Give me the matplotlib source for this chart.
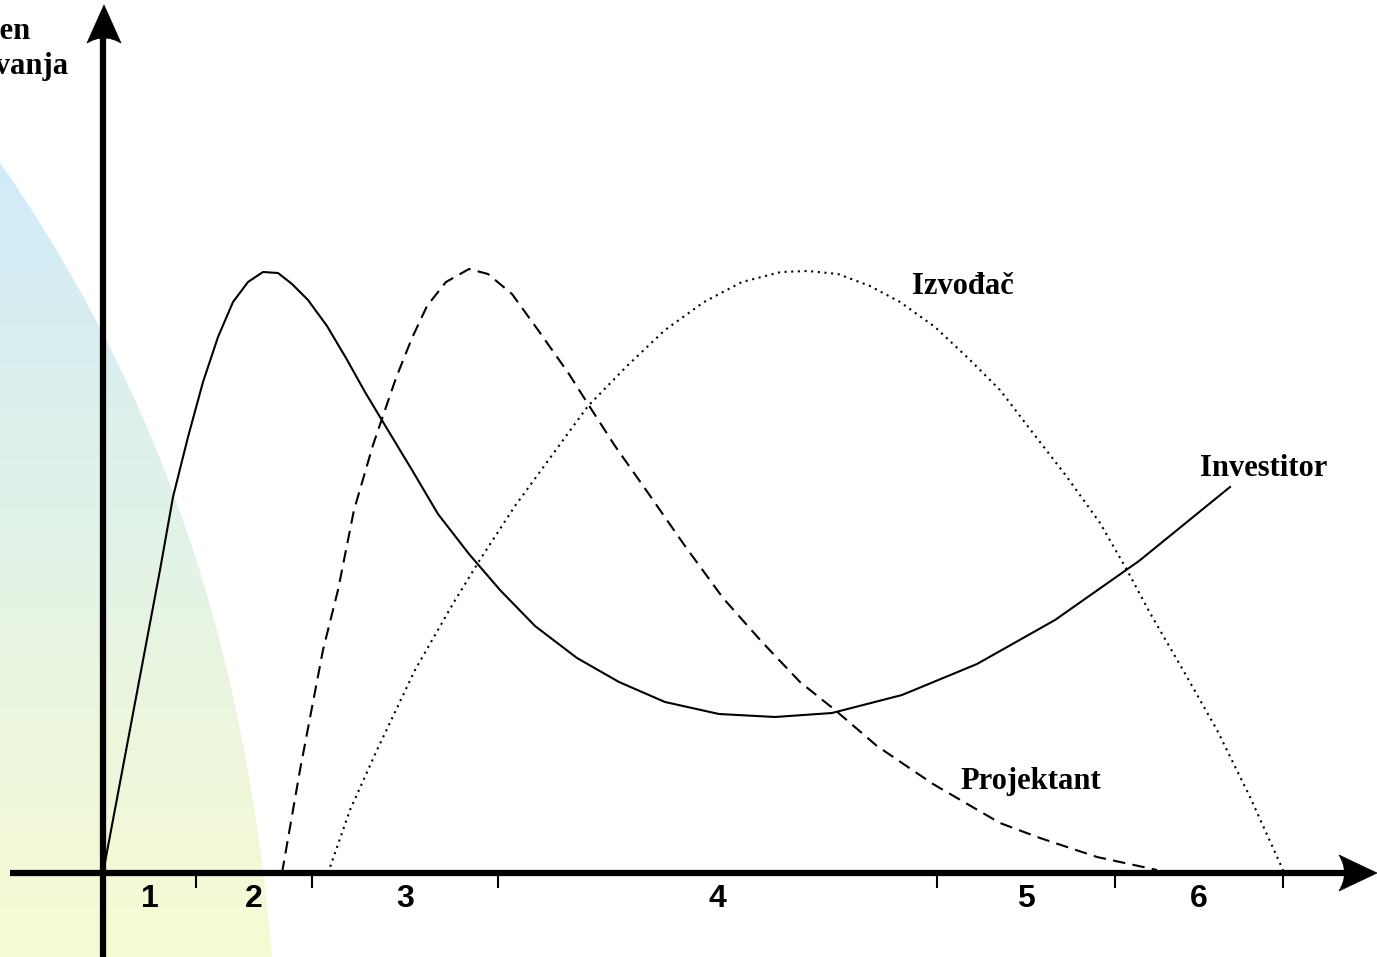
import matplotlib
matplotlib.use("Agg")
import matplotlib.pyplot as plt
import numpy as np
from matplotlib.path import Path
from matplotlib.patches import PathPatch, Polygon

# curves (x = time, y = involvement)
investitor_x = [0.00, 0.57, 0.70, 0.85, 1.00, 1.15, 1.30, 1.45, 1.60, 1.75, 1.89, 2.05, 2.24, 2.43, 2.62, 2.80,
                3.09, 3.35, 3.66, 3.97, 4.32, 4.74, 5.16, 5.62, 6.16, 6.72, 7.29, 7.99, 8.74, 9.52, 10.36, 11.27]
investitor_y = [0.00, 3.03, 3.76, 4.36, 4.91, 5.36, 5.71, 5.91, 6.01, 6.00, 5.89, 5.73, 5.47, 5.15, 4.81, 4.51,
                4.03, 3.59, 3.19, 2.83, 2.47, 2.15, 1.91, 1.71, 1.59, 1.56, 1.60, 1.78, 2.09, 2.53, 3.12, 3.86]

projektant_x = [1.79, 1.97, 2.20, 2.35, 2.51, 2.70, 2.93, 3.09, 3.24, 3.43, 3.66, 3.85, 4.09, 4.35, 4.66,
                4.85, 5.12, 5.43, 5.82, 6.20, 6.59, 6.97, 7.32, 7.74, 8.30, 8.97, 9.37, 9.94, 10.54]
projektant_y = [0.00, 1.03, 2.23, 2.83, 3.63, 4.28, 4.95, 5.35, 5.67, 5.91, 6.04, 5.99, 5.79, 5.43, 4.99,
                4.69, 4.27, 3.83, 3.27, 2.75, 2.31, 1.91, 1.63, 1.27, 0.89, 0.50, 0.35, 0.16, 0.03]

izvodjac_x = [2.25, 2.47, 2.74, 3.12, 3.51, 3.78, 4.12, 4.47, 4.85, 5.24, 5.62, 6.01, 6.39, 6.78, 7.05,
              7.35, 7.67, 7.97, 8.32, 8.65, 8.97, 9.30, 9.64, 9.97, 10.24, 10.47, 10.80, 11.14, 11.47, 11.80]
izvodjac_y = [0.00, 0.63, 1.23, 2.03, 2.71, 3.15, 3.67, 4.15, 4.67, 5.07, 5.43, 5.71, 5.91, 6.01, 6.02,
              5.99, 5.87, 5.71, 5.46, 5.15, 4.83, 4.40, 3.96, 3.50, 3.03, 2.60, 2.03, 1.43, 0.76, 0.03]

# phase boundaries on the time axis and their labels
phase_bounds = [0.0, 0.93, 2.09, 3.95, 8.34, 10.12, 11.80]
phase_labels = ["1", "2", "3", "4", "5", "6"]

# edge of the shaded background area
shade_x = [-1.03, -0.70, -0.36, -0.03, 0.30, 0.64, 0.90, 1.14, 1.30, 1.44, 1.54, 1.59, 1.64, 1.70]
shade_y = [7.13, 6.56, 6.03, 5.50, 4.80, 3.96, 3.13, 2.46, 1.80, 1.13, 0.46, 0.01, -0.37, -0.84]

fig = plt.figure(figsize=(13.77, 9.57), dpi=100)
ax = fig.add_axes([0, 0, 1, 1])
ax.axis("off")

# gradient background, clipped to the shaded area (edge smoothed)
coef = np.polyfit(shade_y, shade_x, 3)
ys = np.linspace(min(shade_y), max(shade_y) + 0.3, 120)
edge = list(zip(np.polyval(coef, ys), ys))
poly = Polygon(edge + [(-1.5, max(ys)), (-1.5, -0.84)], closed=True,
               facecolor="none", edgecolor="none")
ax.add_patch(poly)
top = np.array([208, 235, 249]) / 255
bot = np.array([247, 251, 211]) / 255
t = np.linspace(0, 1, 256)[:, None]
grad = (top * (1 - t) + bot * t)[:, None, :]
im = ax.imshow(grad, extent=[-1.03, 2.0, -0.84, 7.13], aspect="auto", zorder=0)
im.set_clip_path(poly)
ax.set_xlim(-1.03, 12.74)
ax.set_ylim(-0.84, 8.73)

# curves
ax.plot(investitor_x, investitor_y, color="black", lw=1.5, zorder=3)
ax.plot(projektant_x, projektant_y, color="black", lw=1.5, linestyle=(0, (6, 3.5)), zorder=3)
ax.plot(izvodjac_x, izvodjac_y, color="black", lw=1.5, linestyle=(0, (1, 2.2)), zorder=3)

# axes with arrows
ax.plot([-0.93, 12.42], [0, 0], color="black", lw=4.5, solid_capstyle="butt", zorder=4)
ax.plot([0, 0], [-0.84, 8.36], color="black", lw=4.5, solid_capstyle="butt", zorder=4)

codes = [Path.MOVETO, Path.LINETO, Path.CURVE3, Path.CURVE3, Path.CLOSEPOLY]
xa_verts = [(12.74, 0), (12.36, 0.18), (12.47, 0.0), (12.36, -0.18), (12.74, 0)]
ya_verts = [(0.01, 8.68), (0.18, 8.30), (0.01, 8.40), (-0.16, 8.30), (0.01, 8.68)]
for verts in (xa_verts, ya_verts):
    ax.add_patch(PathPatch(Path(verts, codes), facecolor="black", edgecolor="black",
                           lw=0.5, zorder=5))

# phase ticks and numbers
ax.vlines(phase_bounds[1:], -0.15, 0, color="black", lw=1.5, zorder=4)
for i, lab in enumerate(phase_labels):
    mid = (phase_bounds[i] + phase_bounds[i + 1]) / 2
    ax.text(mid, -0.26, lab, ha="center", va="center", fontsize=23,
            fontweight="bold", family="Liberation Sans", zorder=5)

serif = dict(fontsize=22, fontweight="bold", family="Liberation Serif", zorder=5)
ax.text(8.09, 5.87, "Izvođač", ha="left", va="center", **serif)
ax.text(10.97, 4.05, "Investitor", ha="left", va="center", **serif)
ax.text(8.57, 0.92, "Projektant", ha="left", va="center", **serif)
ax.text(-1.17, 8.24, "Stepen\nangažovanja", ha="center", va="center",
        multialignment="center", linespacing=1.3, **serif)

fig.savefig("out.png", dpi=100)
